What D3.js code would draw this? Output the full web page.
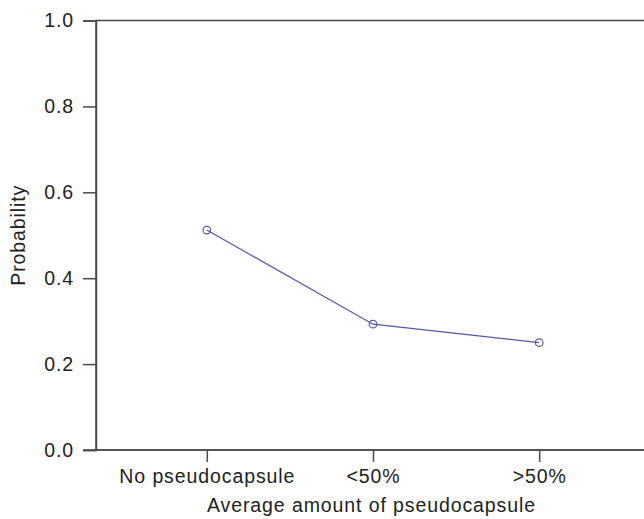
<!DOCTYPE html>
<html><head><meta charset="utf-8">
<script src="https://cdn.jsdelivr.net/npm/d3@7"></script>
<style>
body{margin:0;background:#fff;}
text{font-family:"Liberation Sans",Arial,sans-serif;fill:#222;}
</style></head>
<body><svg id="c" width="644" height="519"></svg>
<script>
const categories = ["No pseudocapsule", "<50%", ">50%"];
const probability = [0.512, 0.293, 0.250];
const yTicks = [0.0, 0.2, 0.4, 0.6, 0.8, 1.0];
const xTitle = "Average amount of pseudocapsule";
const yTitle = "Probability";

(function () {
const svg = d3.select("#c");
const mLeft = 96, mRight = 650, mTop = 20.5, mBottom = 450;
const x = d3.scalePoint().domain(categories).range([mLeft, mRight]).padding(2/3);
const y = d3.scaleLinear().domain([0, 1]).range([mBottom, mTop]);
const axisColor = "#4a4a4a";
const fs = "19.5px", ls = "0.9px";

svg.append("rect").attr("x", mLeft).attr("y", mTop).attr("width", mRight - mLeft).attr("height", mBottom - mTop)
  .attr("fill", "none").attr("stroke", axisColor).attr("stroke-width", 1.5);

const yAxis = svg.append("g").attr("transform", `translate(${mLeft},0)`)
  .call(d3.axisLeft(y).tickValues(yTicks).tickFormat(d3.format(".1f")).tickSize(13).tickPadding(9));
const xAxis = svg.append("g").attr("transform", `translate(0,${mBottom})`)
  .call(d3.axisBottom(x).tickSize(12).tickSizeOuter(0).tickPadding(7));
xAxis.select(".domain").attr("d", `M${mLeft - 13},0H${mRight}`);
[yAxis, xAxis].forEach(g => {
  g.select(".domain").attr("stroke", axisColor).attr("stroke-width", 1.5);
  g.selectAll(".tick line").attr("stroke", axisColor).attr("stroke-width", 1.5);
  g.selectAll(".tick text").style("font-size", fs).style("letter-spacing", ls).attr("fill", "#222");
});

const line = d3.line().x((d, i) => x(categories[i])).y(d => y(d));
svg.append("path").datum(probability).attr("d", line)
  .attr("fill", "none").attr("stroke", "#5558a8").attr("stroke-width", 1.2);
svg.selectAll("circle.pt").data(probability).enter().append("circle")
  .attr("cx", (d, i) => x(categories[i])).attr("cy", d => y(d)).attr("r", 3.8)
  .attr("fill", "none").attr("stroke", "#5558a8").attr("stroke-width", 1.2);

svg.append("text").attr("x", 371.5).attr("y", 512)
  .attr("text-anchor", "middle").style("font-size", fs).style("letter-spacing", ls).text(xTitle);
svg.append("text").attr("transform", `translate(25,${(mTop + mBottom) / 2}) rotate(-90)`)
  .attr("text-anchor", "middle").style("font-size", fs).style("letter-spacing", ls).text(yTitle);
})();
</script></body></html>
